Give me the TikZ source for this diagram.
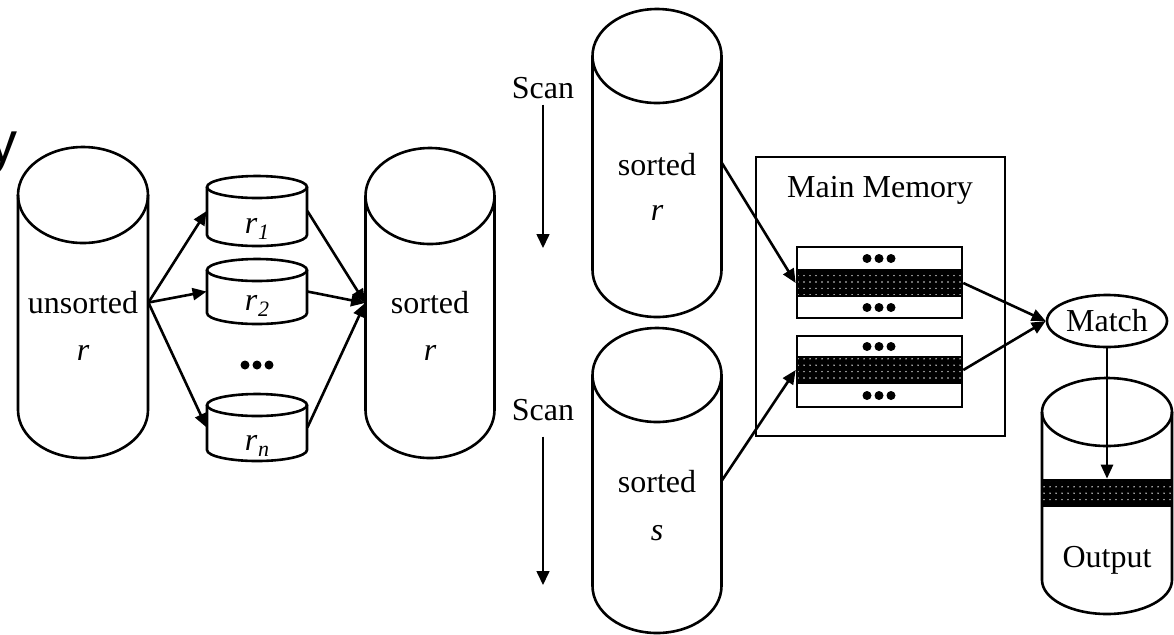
\documentclass[tikz,border=0pt]{standalone}
\usepackage{fontspec}
\setmainfont{Liberation Serif}
\newfontfamily\headsans{Liberation Sans}
\usetikzlibrary{arrows.meta,shapes.geometric,patterns}

% sparse light specks for the buffered-block bands
\pgfdeclarepatternformonly{specks}{\pgfqpoint{-1pt}{-1pt}}{\pgfqpoint{1pt}{1pt}}%
  {\pgfqpoint{3pt}{3.2pt}}%
  {\pgfpathcircle{\pgfpointorigin}{0.4pt}\pgfusepath{fill}}

\tikzset{
  outline/.style={line width=1.3pt},
  conn/.style={line width=1.3pt, -{Triangle[length=7pt,width=6pt]}},
  scanarrow/.style={line width=0.8pt, -{Triangle[length=7pt,width=6.5pt]}},
  lbl/.style={inner sep=0pt, anchor=base, font=\fontsize{16}{19}\selectfont},
  band/.style={draw, line width=1.3pt, inner sep=0pt, preaction={fill=black},
               pattern=specks, pattern color=white!85!black},
  box/.style={draw, line width=1.3pt, inner sep=0pt, fill=white},
}

% disk cylinder: name, centre x, top-ellipse y, bottom-ellipse y, x radius, y radius
% (y values measured downwards)
\newcommand\dbcyl[6]{%
  \draw[outline, fill=white] ({#2-#5},{-#3}) -- ({#2-#5},{-#4})
     arc[start angle=180, end angle=360, x radius=#5, y radius=#6]
     -- ({#2+#5},{-#3});
  \draw[outline] (#2,{-#3}) ellipse[x radius=#5, y radius=#6];
  \node[inner sep=0pt, minimum width={(#5)*1pt}, minimum height={(#4-#3)*0.5pt}]
     (#1) at (#2,{-(#3+#4)/2}) {};
}
% three bullets in a row
\newcommand\threedots[2]{%
  \fill ({#1-12},{-#2}) circle[radius=4.5];
  \fill (#1,{-#2}) circle[radius=4.5];
  \fill ({#1+12},{-#2}) circle[radius=4.5];
}
\newcommand\subidx[1]{\kern0.5pt\raisebox{-0.45ex}{\fontsize{11}{11}\selectfont\itshape #1}}

\begin{document}
\begin{tikzpicture}[x=0.5pt,y=0.5pt]
\useasboundingbox (0,0) rectangle (1174,-634);

% heading fragment at the left edge
\node[anchor=base east, inner sep=0pt, font=\headsans\fontsize{29}{30}\selectfont]
  (headfrag) at (18,-162) {y};

% ---- external sort: runs ----
\dbcyl{unsorted}{83}{195}{410}{65}{48}
\dbcyl{rone}{257}{187}{235}{50}{11}
\dbcyl{rtwo}{257}{270}{313}{50}{11}
\dbcyl{rn}{257}{405}{450}{50}{11}
\dbcyl{sortedr}{430}{196}{410}{64.5}{48}

\node[lbl] (tunsorted) at (83,-313) {unsorted};
\node[lbl] (tunsortedr) at (83,-360) {\itshape r};
\node[lbl] (tsorted) at (430,-313) {sorted};
\node[lbl] (tsortedr) at (430,-360) {\itshape r};
\node[lbl] (tone) at (257,-233) {\itshape r\subidx{1}};
\node[lbl] (ttwo) at (257,-310) {\itshape r\subidx{2}};
\node[lbl] (tn) at (257,-450) {\itshape r\subidx{n}};
\threedots{257}{365}

\draw[conn] (unsorted.east) -- (rone.west);
\draw[conn] (unsorted.east) -- (rtwo.west);
\draw[conn] (unsorted.east) -- (rn.west);
\draw[conn] (rone.east) -- (sortedr.west);
\draw[conn] (rtwo.east) -- (sortedr.west);
\draw[conn] (rn.east) -- (sortedr.west);

% ---- merge join ----
\dbcyl{srtr}{657}{56}{270}{64.5}{47}
\dbcyl{srts}{657}{375}{586}{64.5}{47}
\node[lbl] (tsrtr) at (657,-175) {sorted};
\node[lbl] (tsrtrr) at (657,-220) {\itshape r};
\node[lbl] (tsrts) at (657,-492) {sorted};
\node[lbl] (tsrtss) at (657,-540) {\itshape s};

\node[lbl] (scanone) at (543,-98) {Scan};
\coordinate (scanoneend) at (543,-248);
\draw[scanarrow] ([yshift=-3pt]scanone.south) -- (scanoneend);
\node[lbl] (scantwo) at (543,-420) {Scan};
\coordinate (scantwoend) at (543,-585);
\draw[scanarrow] ([yshift=-8pt]scantwo.south) -- (scantwoend);

% main memory with two buffers
\node[box, minimum width=124.5pt, minimum height=139.5pt] (mem) at (880.5,-296.5) {};
\node[lbl] (tmem) at (880,-197) {Main Memory};

\node[box, minimum width=82.5pt, minimum height=35.5pt] (bufone) at (879.5,-282.5) {};
\node[band, minimum width=82.5pt, minimum height=13pt] (bandone) at (879.5,-283) {};
\threedots{879}{258.5}
\threedots{879}{307.5}

\node[box, minimum width=82.5pt, minimum height=35.5pt] (buftwo) at (879.5,-371.5) {};
\node[band, minimum width=82.5pt, minimum height=13pt] (bandtwo) at (879.5,-370) {};
\threedots{879}{346.5}
\threedots{879}{395.5}

\draw[conn] (srtr.east) -- (bandone.west);
\draw[conn] (srts.east) -- (bandtwo.west);

% match and output
\node[draw, ellipse, line width=1.3pt, inner sep=0pt, minimum width=60pt,
      minimum height=26pt, font=\fontsize{16}{19}\selectfont] (match) at (1107,-321) {Match};
\draw[conn] (bandone.east) -- (match.west);
\draw[conn] (bandtwo.east) -- (match.west);

\dbcyl{outcyl}{1107}{412}{580}{65}{34}
\node[band, minimum width=65pt, minimum height=13pt] (outband) at (1107,-493) {};
\node[lbl] (tout) at (1107,-567) {Output};
\draw[conn] (match.south) -- (outband.north);
\end{tikzpicture}
\end{document}
